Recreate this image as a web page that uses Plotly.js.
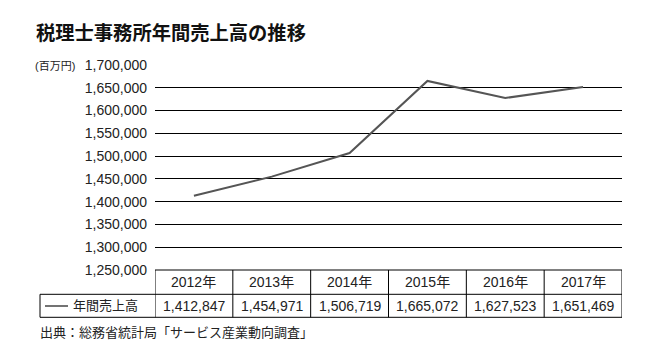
<!DOCTYPE html>
<html>
<head>
<meta charset="utf-8">
<script src="https://cdn.plot.ly/plotly-3.0.1.min.js"></script>
<style>html,body{margin:0;padding:0;background:#fff;}#chart{width:650px;height:357px;}</style>
</head>
<body>
<div id="chart"></div>
<script>
const years = ["2012年", "2013年", "2014年", "2015年", "2016年", "2017年"];
const sales = [1412847, 1454971, 1506719, 1665072, 1627523, 1651469];
const seriesName = "年間売上高";
const yTicks = [1250000, 1300000, 1350000, 1400000, 1450000, 1500000, 1550000, 1600000, 1650000, 1700000];
const titleText = "税理士事務所年間売上高の推移";
const unitText = "(百万円)";
const sourceText = "出典：総務省統計局「サービス産業動向調査」";

const W = 650, H = 357;
const L = 155, R = 622, T = 65, B = 270;
const pw = R - L, ph = B - T;
const px = v => (v - L) / pw;
const py = v => (B - v) / ph;

const FONT = "Liberation Sans, Arial, Noto Sans CJK JP, sans-serif";
const txtColor = "#222";

const rowTop = 270, rowMid = 294.3, rowBot = 317.3, leftX = 40;

const shapes = [];
const lineStyle = {color: "#000", width: 1};
shapes.push({type: "line", xref: "paper", yref: "paper", x0: 0, x1: 1, y0: py(rowTop), y1: py(rowTop), line: lineStyle});
shapes.push({type: "line", xref: "paper", yref: "paper", x0: px(leftX), x1: 1, y0: py(rowMid), y1: py(rowMid), line: lineStyle});
shapes.push({type: "line", xref: "paper", yref: "paper", x0: px(leftX), x1: 1, y0: py(rowBot), y1: py(rowBot), line: lineStyle});
shapes.push({type: "line", xref: "paper", yref: "paper", x0: px(leftX), x1: px(leftX), y0: py(rowMid), y1: py(rowBot), line: lineStyle});
for (let i = 0; i <= years.length; i++) {
  shapes.push({type: "line", xref: "x", yref: "paper", x0: i - 0.5, x1: i - 0.5, y0: py(rowTop), y1: py(rowBot), line: lineStyle});
}
shapes.push({type: "line", xref: "paper", yref: "paper", x0: px(45), x1: px(68), y0: py(306), y1: py(306), line: {color: "#444", width: 1.5}});

const annotations = [];
years.forEach((y, i) => {
  annotations.push({xref: "x", yref: "paper", x: i, y: py((rowTop + rowMid) / 2), text: y, showarrow: false, xanchor: "center", yanchor: "middle", font: {family: FONT, size: 14, color: txtColor}});
  annotations.push({xref: "x", yref: "paper", x: i, y: py((rowMid + rowBot) / 2), text: sales[i].toLocaleString("en-US"), showarrow: false, xanchor: "center", yanchor: "middle", font: {family: FONT, size: 14, color: txtColor}});
});
annotations.push({xref: "paper", yref: "paper", x: px(71), y: py((rowMid + rowBot) / 2), text: seriesName, showarrow: false, xanchor: "left", yanchor: "middle", font: {family: FONT, size: 13, color: txtColor}});
annotations.push({xref: "paper", yref: "paper", x: px(38), y: py(332), text: sourceText, showarrow: false, xanchor: "left", yanchor: "middle", font: {family: FONT, size: 13, color: txtColor}});
annotations.push({xref: "paper", yref: "paper", x: px(77), y: py(66), text: unitText, showarrow: false, xanchor: "right", yanchor: "middle", font: {family: FONT, size: 11, color: txtColor}});
annotations.push({xref: "paper", yref: "paper", x: px(34), y: py(31.5), text: "<b>" + titleText + "</b>", showarrow: false, xanchor: "left", yanchor: "middle", font: {family: "Noto Sans CJK JP, sans-serif", size: 19.3, color: "#111"}});

const data = [{
  type: "scatter", mode: "lines",
  x: years.map((_, i) => i), y: sales,
  line: {color: "#555", width: 2},
  name: seriesName, hoverinfo: "skip"
}];

const layout = {
  width: W, height: H,
  margin: {l: L, r: W - R, t: T, b: H - B, pad: 0},
  paper_bgcolor: "#fff", plot_bgcolor: "#fff",
  showlegend: false,
  xaxis: {range: [-0.5, years.length - 0.5], showticklabels: false, showgrid: false, zeroline: false, showline: false, ticks: "", fixedrange: true},
  yaxis: {range: [1250000, 1700000], tickvals: yTicks, ticktext: yTicks.map(v => v.toLocaleString("en-US")),
    showgrid: true, gridcolor: "#000", gridwidth: 1, zeroline: false, showline: false, ticks: "", ticklabelstandoff: 7,
    tickfont: {family: FONT, size: 14, color: txtColor}, fixedrange: true},
  shapes: shapes,
  annotations: annotations
};

Plotly.newPlot("chart", data, layout, {staticPlot: true, displayModeBar: false});
</script>
</body>
</html>
